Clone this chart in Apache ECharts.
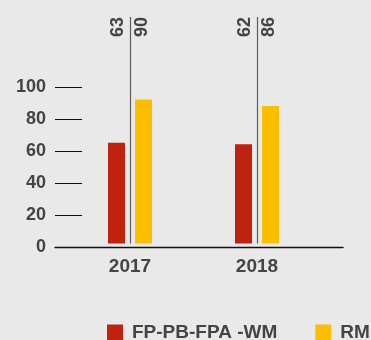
<!DOCTYPE html>
<html>
<head>
<meta charset="utf-8">
<script src="https://cdn.jsdelivr.net/npm/echarts@6/dist/echarts.min.js"></script>
<style>
  html, body { margin: 0; padding: 0; background: #e9e9e9; }
  #chart { width: 371px; height: 340px; }
</style>
</head>
<body>
<div id="chart"></div>
<script>
// Chart data
var years = ['2017', '2018'];
var fpValues = [63, 62];   // FP-PB-FPA -WM
var rmValues = [90, 86];   // RM
var yTicks = [0, 20, 40, 60, 80, 100];
var seriesNames = ['FP-PB-FPA -WM', 'RM'];

var FONT = '"Liberation Sans", Arial, sans-serif';
var TEXT = '#444444';
var RED = '#c1210f';
var YELLOW = '#fcbf00';

// rows for the separator + value-label overlay: [categoryIndex, fp, rm]
var overlayRows = years.map(function (y, i) { return [i, fpValues[i], rmValues[i]]; });

var chart = echarts.init(document.getElementById('chart'), null, { renderer: 'canvas' });

chart.setOption({
  backgroundColor: '#e9e9e9',
  animation: false,
  textStyle: { fontFamily: FONT },
  legend: {
    data: seriesNames,
    left: 107,
    top: 323,
    itemWidth: 16,
    itemHeight: 16,
    itemGap: 38,
    icon: 'rect',
    padding: 0,
    textStyle: {
      fontFamily: FONT, fontSize: 19, fontWeight: 'bold', color: TEXT,
      padding: [0, 0, 0, 4]
    }
  },
  grid: [
    // frame: baseline and value ticks
    { left: 55, right: 28, top: 87, bottom: 93 },
    // bars
    { left: 66.5, right: 50.5, top: 83.5, bottom: 96.5 }
  ],
  xAxis: [
    {
      gridIndex: 0, type: 'value', min: 0, max: 1,
      axisLine: { show: true, lineStyle: { color: '#111', width: 1.4 } },
      axisTick: { show: false }, axisLabel: { show: false }, splitLine: { show: false }
    },
    {
      gridIndex: 1, type: 'category', data: years,
      axisLine: { show: false }, axisTick: { show: false },
      axisLabel: { fontFamily: FONT, fontSize: 19, fontWeight: 'bold', color: TEXT, margin: 14 }
    }
  ],
  yAxis: [
    {
      gridIndex: 0, type: 'value', min: yTicks[0], max: yTicks[yTicks.length - 1], interval: 20,
      axisLine: { show: false },
      axisTick: { show: true, inside: true, length: 27, lineStyle: { color: '#111', width: 1 } },
      axisLabel: { fontFamily: FONT, fontSize: 18, fontWeight: 'bold', color: TEXT, margin: 9 },
      splitLine: { show: false }
    },
    {
      gridIndex: 1, type: 'value', min: 0, max: 100,
      show: false
    }
  ],
  series: [
    {
      name: seriesNames[0], type: 'bar', xAxisIndex: 1, yAxisIndex: 1,
      data: fpValues, barWidth: 17, barGap: '59%',
      itemStyle: { color: RED }
    },
    {
      name: seriesNames[1], type: 'bar', xAxisIndex: 1, yAxisIndex: 1,
      data: rmValues, barWidth: 17,
      itemStyle: { color: YELLOW }
    },
    {
      // vertical separator per year with the two values written sideways at the top
      type: 'custom', xAxisIndex: 1, yAxisIndex: 1,
      data: overlayRows,
      encode: { x: 0, y: 1 },
      clip: false,
      silent: true,
      renderItem: function (params, api) {
        var base = api.coord([api.value(0), 0]);
        var cx = Math.round(base[0]) + 0.5;
        var topY = params.coordSys.y - 66.5;
        var labelStyle = {
          fontFamily: FONT, fontSize: 18, fontWeight: 'bold', fill: TEXT,
          align: 'right', verticalAlign: 'middle'
        };
        return {
          type: 'group',
          children: [
            {
              type: 'line',
              shape: { x1: cx, y1: base[1], x2: cx, y2: topY },
              style: { stroke: '#5e5e5e', lineWidth: 1.2 }
            },
            {
              type: 'text', x: cx - 12.5, y: topY, rotation: Math.PI / 2,
              style: Object.assign({ text: String(api.value(1)) }, labelStyle)
            },
            {
              type: 'text', x: cx + 12, y: topY, rotation: Math.PI / 2,
              style: Object.assign({ text: String(api.value(2)) }, labelStyle)
            }
          ]
        };
      }
    }
  ]
});
</script>
</body>
</html>
